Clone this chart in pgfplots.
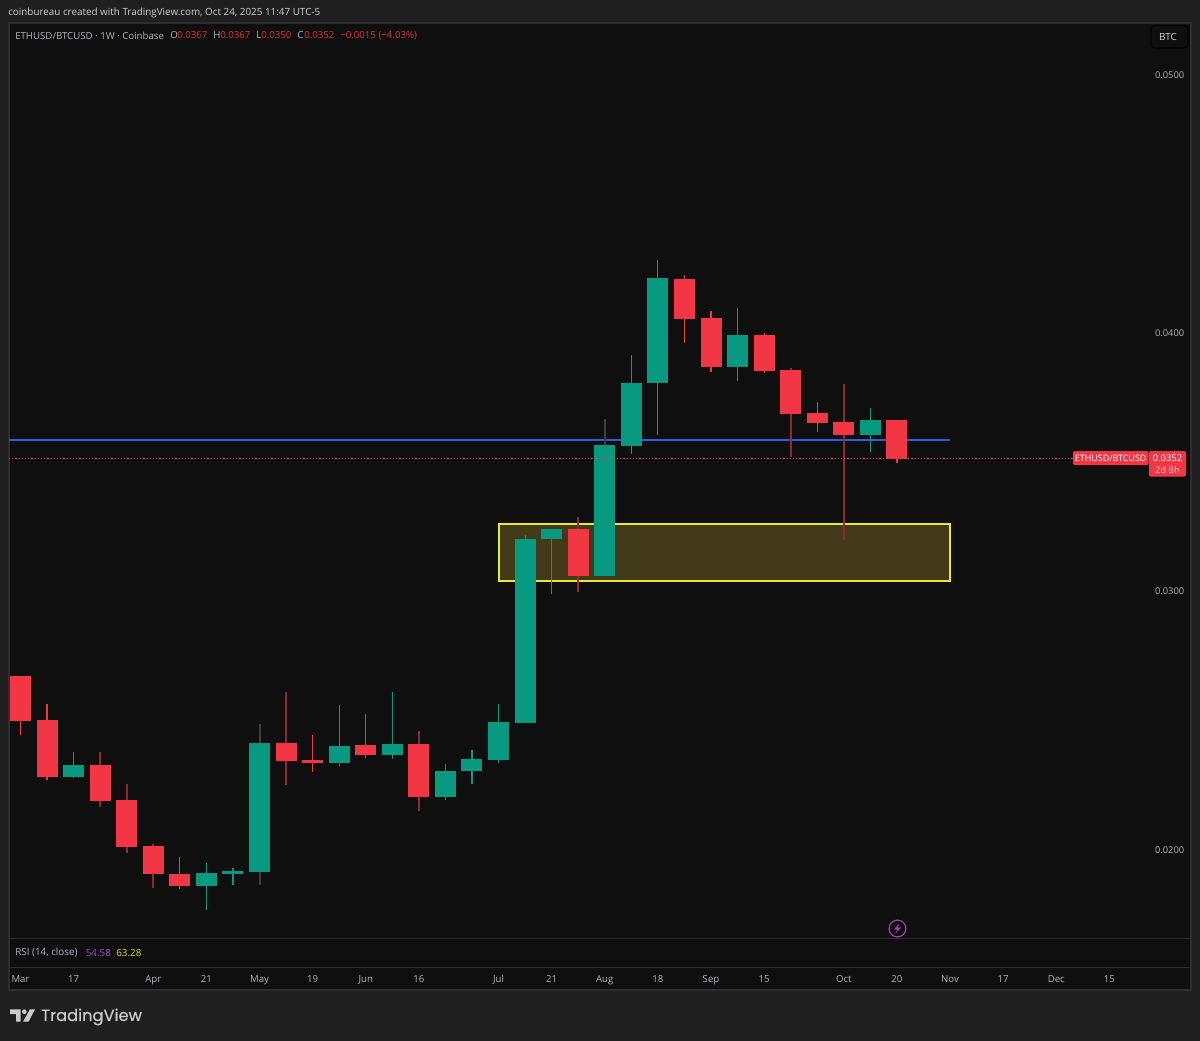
\documentclass[border=0pt]{standalone}
\usepackage{pgfplots}
\usepackage{pgfplotstable}
\usepackage{fontspec}
\pgfplotsset{compat=1.18}
\setmainfont{Open Sans}
\newfontfamily\logofont{Poppins}[FakeBold=0.5]
\definecolor{outerbg}{HTML}{1F1F1F}
\definecolor{panelbg}{HTML}{0F0F0F}
\definecolor{panelline}{HTML}{2E2E2E}
\definecolor{tvred}{HTML}{F23645}
\definecolor{tvgreen}{HTML}{089981}
\definecolor{darkred}{HTML}{8E2A35}
\definecolor{greywick}{HTML}{3B403E}
\definecolor{tvblue}{HTML}{2A5CE6}
\definecolor{boxline}{HTML}{E8E83C}
\definecolor{boxfill}{HTML}{433A19}
\definecolor{labelgrey}{HTML}{B2B5BE}
\definecolor{headgrey}{HTML}{D0D0D0}
\definecolor{legred}{HTML}{E0303F}
\definecolor{rsipurple}{HTML}{9A4FD0}
\definecolor{rsiyellow}{HTML}{DDE020}
\definecolor{boltpurple}{HTML}{A53BB5}
\definecolor{pinkish}{HTML}{FBC9CE}

% candle tables: week index, open, close, high, low
\pgfplotstableread{
i open close high low
0 0.026716 0.024993 0.026747 0.024451
1 0.025032 0.022814 0.025651 0.022698
6 0.019059 0.018606 0.019717 0.018502
11 0.023472 0.023379 0.024440 0.023019
13 0.024064 0.023689 0.025276 0.023561
25 0.042103 0.040555 0.042246 0.039637
26 0.040582 0.038697 0.040876 0.038503
28 0.039935 0.038542 0.040013 0.038464
30 0.036928 0.036529 0.037342 0.036181
33 0.036657 0.035147 0.036657 0.034992
}\redA
\pgfplotstableread{
i open close high low
3 0.023302 0.021908 0.023782 0.021676
4 0.021947 0.020127 0.022554 0.019895
5 0.020166 0.019059 0.020232 0.018529
10 0.024142 0.023445 0.026116 0.022516
15 0.024115 0.022040 0.024606 0.021521
21 0.032414 0.030606 0.032902 0.029987
29 0.038580 0.036889 0.038646 0.035213
31 0.036568 0.036076 0.038027 0.032000
}\redB
\pgfplotstableread{
i open close high low
2 0.022814 0.023302 0.023782 0.022787
7 0.018606 0.019121 0.019485 0.017677
8 0.019071 0.019187 0.019314 0.018645
12 0.023368 0.024026 0.025613 0.023251
14 0.023689 0.024115 0.026104 0.023522
16 0.022040 0.023069 0.023329 0.021935
17 0.023046 0.023522 0.023859 0.022566
18 0.023495 0.024955 0.025640 0.023379
19 0.024928 0.032039 0.032193 0.024928
20 0.032039 0.032426 0.032426 0.029921
23 0.035639 0.038089 0.039161 0.035317
24 0.038089 0.042142 0.042850 0.036076
27 0.038697 0.039935 0.040981 0.038155
32 0.036064 0.036657 0.037121 0.035406
}\greenA
\pgfplotstableread{
i open close high low
9 0.019148 0.024142 0.024866 0.018633
22 0.030606 0.035666 0.036695 0.030606
}\greenB

\newcommand\candles[4]{%
 \addplot[draw=none,mark=none,forget plot,error bars/.cd,y dir=both,y explicit,error mark=none,
   error bar style={draw=#3,line width=#4}]
   table[x=i,y expr={(\thisrow{high}+\thisrow{low})/2},y error expr={(\thisrow{high}-\thisrow{low})/2}] {#1};
 \addplot[draw=none,mark=none,forget plot,error bars/.cd,y dir=both,y explicit,error mark=none,
   error bar style={draw=#2,line width=15.75pt}]
   table[x=i,y expr={(\thisrow{open}+\thisrow{close})/2},y error expr={abs(\thisrow{open}-\thisrow{close})/2}] {#1};
}

\newcommand\sz[1]{\fontsize{#1}{#1}\selectfont}

\begin{document}
\begin{tikzpicture}
\begin{scope}[x=0.75pt,y=-0.75pt]
\useasboundingbox (0,0) rectangle (1200,1041);
\fill[outerbg] (0,0) rectangle (1200,1041);
\fill[panelbg,draw=panelline,line width=0.9pt] (9,23) rectangle (1191,990);
\draw[panelline,line width=0.75pt] (9,938.5) -- (1191,938.5);
\draw[panelline,line width=0.75pt] (9,967.5) -- (1191,967.5);
\end{scope}

\begin{axis}[
  at={(6.75pt,-703.5pt)},anchor=south west,
  scale only axis,width=855.75pt,height=686.25pt,
  xmin=-0.433,xmax=42.53,ymin=0.016593,ymax=0.052013,
  axis line style={draw=none},tick style={draw=none},
  major tick length=0pt,
  xtick={0,2,5,7,9,11,13,15,18,20,22,24,26,28,31,33,35,37,39,41},
  xticklabels={Mar,17,Apr,21,May,19,Jun,16,Jul,21,Aug,18,Sep,15,Oct,20,Nov,17,Dec,15},
  ytick={0.02,0.03,0.04,0.05},
  yticklabel pos=right,
  scaled y ticks=false,
  xticklabel style={anchor=center,yshift=-30.75pt,text=labelgrey,font=\sz{7.2},text height=5pt,text depth=0pt,inner sep=0pt},
  yticklabel style={anchor=west,xshift=3.6pt,text=labelgrey,font=\sz{7.0},inner sep=0pt,
    /pgf/number format/assume math mode=true,
    /pgf/number format/fixed,/pgf/number format/fixed zerofill,/pgf/number format/precision=4},
]
% support zone and level
\addplot[fill=boxfill,draw=boxline,line width=1.5pt,forget plot] coordinates {(18,0.030412)(35,0.030412)(35,0.032619)(18,0.032619)} -- cycle;
\addplot[tvblue,line width=1.6pt,forget plot] coordinates {(-0.433,0.035871)(35,0.035871)};
\candles{\redA}{tvred}{tvred}{0.9pt}
\candles{\redB}{tvred}{darkred}{1.5pt}
\candles{\greenA}{tvgreen}{tvgreen}{0.9pt}
\candles{\greenB}{tvgreen}{greywick}{1.5pt}
% last price line
\addplot[tvred,line width=0.6pt,dash pattern=on 0.9pt off 1.5pt,forget plot] coordinates {(-0.433,0.035155)(39.63,0.035155)};
\end{axis}

\begin{scope}[x=0.75pt,y=-0.75pt]
% header and legend
\node[anchor=west,inner sep=0pt,text=headgrey,font=\sz{7.4}] at (8,13) {coinbureau created with TradingView.com, Oct 24, 2025 11:47 UTC-5};
\node[anchor=west,inner sep=0pt,text=labelgrey,font=\sz{7.25}] at (15,35.5) {ETHUSD/BTCUSD · 1W · Coinbase};
\node[anchor=west,inner sep=0pt,text=labelgrey,font=\sz{7.25}] at (170,35.5) {O};
\node[anchor=west,inner sep=0pt,text=legred,font=\sz{7.25}] at (177,35.5) {0.0367};
\node[anchor=west,inner sep=0pt,text=labelgrey,font=\sz{7.25}] at (213,35.5) {H};
\node[anchor=west,inner sep=0pt,text=legred,font=\sz{7.25}] at (220,35.5) {0.0367};
\node[anchor=west,inner sep=0pt,text=labelgrey,font=\sz{7.25}] at (256,35.5) {L};
\node[anchor=west,inner sep=0pt,text=legred,font=\sz{7.25}] at (261,35.5) {0.0350};
\node[anchor=west,inner sep=0pt,text=labelgrey,font=\sz{7.25}] at (297,35.5) {C};
\node[anchor=west,inner sep=0pt,text=legred,font=\sz{7.25}] at (304,35.5) {0.0352};
\node[anchor=west,inner sep=0pt,text=legred,font=\sz{7.25}] at (340,35.5) {−0.0015 (−4.03\%)};

% currency button
\draw[panelline!120!white,line width=0.9pt,rounded corners=3pt,fill=panelbg] (1151,25.5) rectangle (1188,48);
\node[inner sep=0pt,text=headgrey,font=\sz{7.4}] at (1168,36.5) {BTC};

% price labels
\fill[tvred,rounded corners=1pt] (1073,451) rectangle (1148.5,465);
\fill[tvred,rounded corners=1pt] (1149,451) rectangle (1186,476.5);
\node[inner sep=0pt,text=white,font=\sz{6.7}] at (1110.7,458.3) {ETHUSD/BTCUSD};
\node[inner sep=0pt,text=white,font=\sz{7.0}] at (1167.5,458.3) {0.0352};
\node[inner sep=0pt,text=pinkish,font=\sz{7.0}] at (1167.5,469.5) {2d 8h};

% RSI legend
\node[anchor=west,inner sep=0pt,text=labelgrey,font=\sz{7.4}] at (15,952.5) {RSI (14, close)};
\node[anchor=west,inner sep=0pt,text=rsipurple,font=\sz{7.4}] at (85.5,952.5) {54.58};
\node[anchor=west,inner sep=0pt,text=rsiyellow,font=\sz{7.4}] at (116,952.5) {63.28};

% lightning icon
\draw[boltpurple,line width=0.9pt] (897.5,928.5) circle[radius=6.3pt];
\fill[boltpurple] (899.5,923.5) -- (893.8,929.5) -- (897.2,929.5) -- (895.5,933.5) -- (901.2,927.5) -- (897.8,927.5) -- cycle;

% TradingView logo
\fill[headgrey!110!white] (10,1009.3) -- (20.7,1009.3) -- (20.7,1021.7) -- (16,1021.7) -- (16,1014) -- (10,1014) -- cycle;
\fill[headgrey!110!white] (24.3,1011.7) circle[radius=1.75pt];
\fill[headgrey!110!white] (30,1009.3) -- (35,1009.3) -- (28.5,1021.7) -- (23,1021.7) -- cycle;
\node[anchor=west,inner sep=0pt,text=headgrey!110!white,font={\logofont\sz{12.2}}] at (41,1017) {TradingView};
\end{scope}
\end{tikzpicture}
\end{document}
